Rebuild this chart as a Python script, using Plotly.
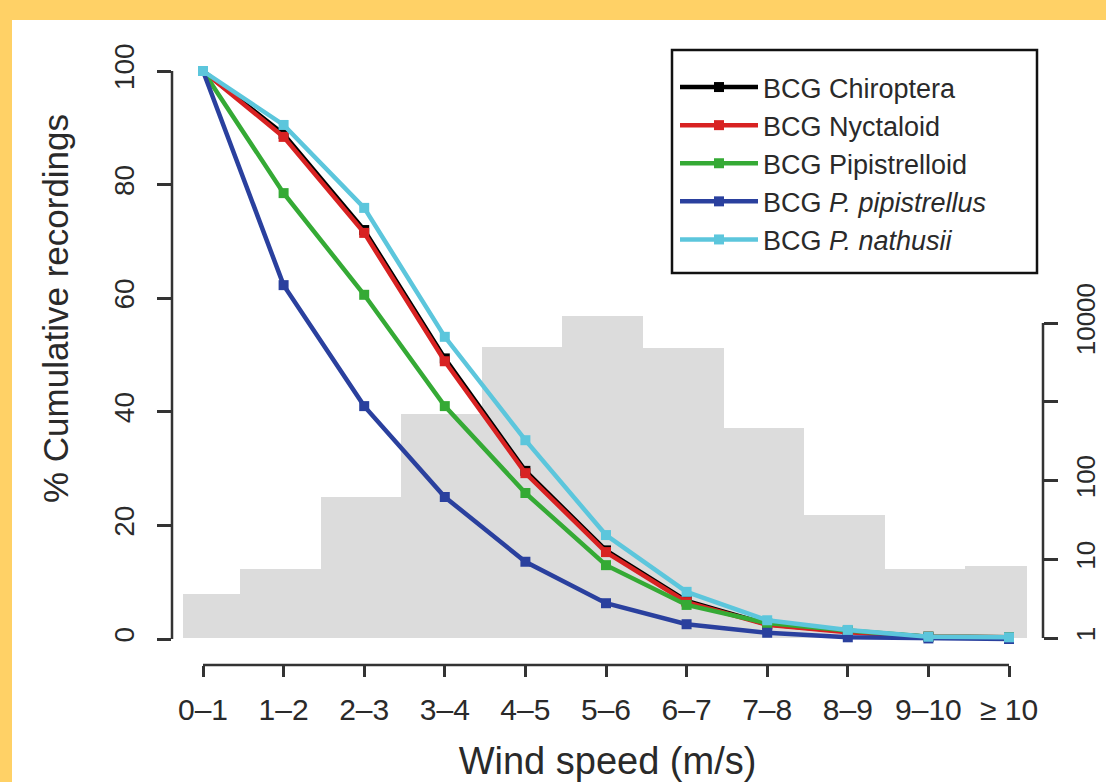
import plotly.graph_objects as go

# ---------------- data ----------------
categories = ["0–1", "1–2", "2–3", "3–4", "4–5", "5–6", "6–7", "7–8", "8–9", "9–10", "≥ 10"]

chiroptera     = [100, 88.9, 72.0, 49.4, 29.6, 15.6, 6.7, 2.6, 1.3, 0.4, 0.3]
nyctaloid      = [100, 88.4, 71.5, 48.9, 29.2, 15.3, 6.5, 2.5, 1.2, 0.4, 0.3]
pipistrelloid  = [100, 78.5, 60.6, 41.0, 25.7, 13.0, 6.0, 2.8, 1.5, 0.4, 0.3]
p_pipistrellus = [100, 62.3, 41.0, 25.0, 13.6, 6.3, 2.6, 1.1, 0.3, 0.1, 0.0]
p_nathusii     = [100, 90.5, 75.9, 53.2, 35.0, 18.3, 8.3, 3.3, 1.6, 0.4, 0.3]

series_names = ["BCG Chiroptera", "BCG Nyctaloid", "BCG Pipistrelloid",
                "BCG <i>P. pipistrellus</i>", "BCG <i>P. nathusii</i>"]
series_values = [chiroptera, nyctaloid, pipistrelloid, p_pipistrellus, p_nathusii]

# number of recordings per wind-speed class (right log axis)
recordings = [2.6, 6.5, 60, 700, 4960, 12300, 4820, 464, 35, 6.5, 7.1]

y_title = "% Cumulative recordings"
x_title = "Wind speed (m/s)"

# ---------------- style ----------------
series_colors = ["#000000", "#D82222", "#35AA35", "#2A409E", "#5CC6DC"]
bar_color = "#DCDCDC"
bar_offsets = [-0.25] + [-0.54] * 10
bar_widths = [0.71] + [1.0] * 9 + [0.76]
axis_color = "#333333"
text_color = "#2a2a2a"
font_family = "Liberation Sans, Arial, Helvetica, sans-serif"

W, H = 1106, 782
PL, PR, PT, PB = 172, 1043, 48, 665  # plot area in pixels


def px_x(p):
    return (p - PL) / (PR - PL)


def px_y(p):
    return (PB - p) / (PB - PT)


fig = go.Figure()

fig.add_trace(go.Bar(
    x=categories, y=recordings, base=1,
    offset=bar_offsets, width=bar_widths,
    marker=dict(color=bar_color, line=dict(width=0)),
    showlegend=False, yaxis="y", hoverinfo="skip",
))

for name, vals, col in zip(series_names, series_values, series_colors):
    fig.add_trace(go.Scatter(
        x=categories, y=vals, name=name, mode="lines+markers",
        line=dict(color=col, width=4.5),
        marker=dict(symbol="square", size=10, color=col),
        yaxis="y2", cliponaxis=False,
    ))

shapes = [
    # white page area inside yellow frame
    dict(type="rect", xref="paper", yref="paper", layer="below",
         x0=px_x(12), x1=3, y0=-3, y1=px_y(20),
         fillcolor="white", line=dict(width=0)),
    # legend frame
    dict(type="rect", xref="paper", yref="paper", layer="above",
         x0=px_x(672), x1=px_x(1037), y0=px_y(273), y1=px_y(50),
         fillcolor="white", line=dict(color="#111111", width=2.5)),
    # axis lines (R style, spanning tick range only)
    dict(type="line", xref="x", yref="paper", x0=0, x1=10, y0=0, y1=0,
         line=dict(color=axis_color, width=2.5)),
    dict(type="line", xref="paper", yref="y2", x0=0, x1=0, y0=0, y1=100,
         line=dict(color=axis_color, width=2.5)),
    dict(type="line", xref="paper", yref="y", x0=1, x1=1, y0=1, y1=10000,
         line=dict(color=axis_color, width=2.5)),
]

annotations = [
    dict(text=y_title, xref="paper", yref="paper", x=px_x(55), y=px_y(309),
         xanchor="center", yanchor="middle", textangle=-90, showarrow=False,
         font=dict(size=35, color=text_color)),
]

fig.update_layout(
    width=W, height=H, autosize=False,
    margin=dict(l=PL, r=W - PR, t=PT, b=H - PB, pad=0, autoexpand=False),
    paper_bgcolor="#FFD166", plot_bgcolor="white",
    font=dict(family=font_family, color=text_color),
    showlegend=True,
    bargap=0,
    shapes=shapes,
    annotations=annotations,
    xaxis=dict(
        type="category", categoryorder="array", categoryarray=categories,
        range=[(PL - 203) / 80.6, (PR - 203) / 80.6], automargin=False,
        showgrid=False, zeroline=False, showline=False,
        ticks="outside", ticklen=11, tickwidth=2.5, tickcolor=axis_color,
        tickfont=dict(size=30, color=text_color), ticklabelstandoff=7,
        title=dict(text=x_title, font=dict(size=38, color=text_color), standoff=30),
    ),
    yaxis=dict(
        type="log", side="right", anchor="x", automargin=False,
        range=[-(PB - 638) / 78.75, (638 - PT) / 78.75],
        tickvals=[1, 10, 100, 1000, 10000], ticktext=["1", "10", "100", "", "10000"],
        showgrid=False, zeroline=False, showline=False,
        ticks="outside", ticklen=14, tickwidth=2.5, tickcolor=axis_color,
        tickfont=dict(size=26, color=text_color), tickangle=-90, ticklabelstandoff=6,
    ),
    yaxis2=dict(
        overlaying="y", side="left", anchor="x", automargin=False,
        range=[-(PB - 639) / 5.68, 100 + (71 - PT) / 5.68],
        tickvals=[0, 20, 40, 60, 80, 100],
        showgrid=False, zeroline=False, showline=False,
        ticks="outside", ticklen=14, tickwidth=2.5, tickcolor=axis_color,
        tickfont=dict(size=28, color=text_color), tickangle=-90, ticklabelstandoff=12,
    ),
    legend=dict(
        x=px_x(675), y=px_y(63), xanchor="left", yanchor="top",
        bgcolor="rgba(0,0,0,0)", borderwidth=0,
        font=dict(size=27, color=text_color), itemwidth=78,
        tracegroupgap=0,
    ),
)

fig.write_html("out.html", config={"displayModeBar": False},
               post_script="document.body.style.margin='0';document.body.style.overflow='hidden';")
